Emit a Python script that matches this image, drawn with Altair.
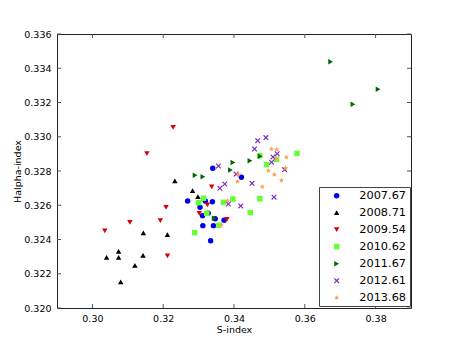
import altair as alt
import pandas as pd

series_names = ["2007.67", "2008.71", "2009.54", "2010.62", "2011.67", "2012.61", "2013.68"]
series_colors = ["#0000ee", "#000000", "#dd0000", "#66ff33", "#006600", "#7b2cbf", "#ffa04d"]

x_2007 = [0.3340, 0.3421, 0.3269, 0.3319, 0.3339, 0.3304, 0.3327, 0.3311, 0.3347, 0.3372, 0.3312, 0.3342, 0.3334]
y_2007 = [0.32816, 0.32763, 0.32625, 0.32625, 0.32621, 0.32588, 0.32553, 0.32539, 0.32521, 0.32512, 0.32481, 0.32481, 0.32393]

x_2008 = [0.3233, 0.3283, 0.3298, 0.3144, 0.3212, 0.3074, 0.3040, 0.3074, 0.3143, 0.3120, 0.3080]
y_2008 = [0.32743, 0.32685, 0.32650, 0.32438, 0.32428, 0.32331, 0.32296, 0.32296, 0.32308, 0.32249, 0.32152]

x_2009 = [0.3228, 0.3154, 0.3035, 0.3106, 0.3192, 0.3208, 0.3212, 0.3337, 0.3302, 0.3325, 0.3380]
y_2009 = [0.33055, 0.32901, 0.32450, 0.32500, 0.32510, 0.32588, 0.32304, 0.32708, 0.32553, 0.32602, 0.32518]

x_2010 = [0.3314, 0.3300, 0.3370, 0.3397, 0.3323, 0.3289, 0.3357, 0.3446, 0.3578, 0.3473, 0.3520, 0.3492, 0.3473]
y_2010 = [0.32641, 0.32615, 0.32617, 0.32636, 0.32553, 0.32440, 0.32483, 0.32557, 0.32903, 0.32889, 0.32868, 0.32837, 0.32638]

x_2011 = [0.3673, 0.3807, 0.3736, 0.3397, 0.3445, 0.3390, 0.3290, 0.3312, 0.3344, 0.3474]
y_2011 = [0.33438, 0.33277, 0.33190, 0.32849, 0.32860, 0.32806, 0.32775, 0.32767, 0.32524, 0.32886]

x_2012 = [0.3490, 0.3467, 0.3458, 0.3522, 0.3510, 0.3506, 0.3543, 0.3451, 0.3513, 0.3419, 0.3356, 0.3406, 0.3374, 0.3360, 0.3384]
y_2012 = [0.32995, 0.32977, 0.32929, 0.32901, 0.32882, 0.32851, 0.32808, 0.32728, 0.32647, 0.32596, 0.32829, 0.32782, 0.32724, 0.32699, 0.32607]

x_2013 = [0.3506, 0.3521, 0.3548, 0.3520, 0.3497, 0.3514, 0.3545, 0.3534, 0.3480, 0.3412, 0.3410, 0.3382, 0.3364]
y_2013 = [0.32929, 0.32925, 0.32880, 0.32873, 0.32802, 0.32779, 0.32818, 0.32746, 0.32708, 0.32781, 0.32738, 0.32627, 0.32485]

x_ticks = [0.30, 0.32, 0.34, 0.36, 0.38]
y_ticks = [0.320, 0.322, 0.324, 0.326, 0.328, 0.330, 0.332, 0.334, 0.336]

X_SHAPE = "M-1,-0.7L-0.7,-1L0,-0.3L0.7,-1L1,-0.7L0.3,0L1,0.7L0.7,1L0,0.3L-0.7,1L-1,0.7L-0.3,0Z"
STAR = ("M0,-1L0.265,-0.364L0.951,-0.309L0.428,0.139L0.588,0.809L0,0.45"
        "L-0.588,0.809L-0.428,0.139L-0.951,-0.309L-0.265,-0.364Z")
series_shapes = ["circle", "triangle-up", "triangle-down", "square", "triangle-right", X_SHAPE, STAR]

xs = [x_2007, x_2008, x_2009, x_2010, x_2011, x_2012, x_2013]
ys = [y_2007, y_2008, y_2009, y_2010, y_2011, y_2012, y_2013]
rows = []
for name, xv, yv in zip(series_names, xs, ys):
    for a, b in zip(xv, yv):
        rows.append({"s": a, "h": b, "epoch": name})
df = pd.DataFrame(rows)

W, H = 354, 274
FONT = "DejaVu Sans"

xscale = alt.Scale(domain=[0.29, 0.39], nice=False, zero=False)
yscale = alt.Scale(domain=[0.320, 0.336], nice=False, zero=False)

x_axis = alt.Axis(values=x_ticks, format=".2f", grid=False, ticks=False, tickSize=0,
                  domain=False, labelPadding=5, labelFontSize=9.5, labelFont=FONT,
                  labelOverlap=False, labelColor="#000", titleFont=FONT, titleFontSize=9.5,
                  titleFontWeight="normal", titleColor="#000", titlePadding=2)
y_axis = alt.Axis(values=y_ticks, format=".3f", grid=False, ticks=False, tickSize=0,
                  domain=False, labelPadding=6, labelFontSize=9.5, labelFont=FONT,
                  labelOverlap=False, labelColor="#000", titleFont=FONT, titleFontSize=9.5,
                  titleFontWeight="normal", titleColor="#000", titlePadding=1)

legend_cfg = dict(title=None, orient="none", legendX=262, legendY=153,
                  strokeColor="#444", fillColor="white", padding=3,
                  symbolOffset=9, labelOffset=17, rowPadding=5,
                  labelFont=FONT, labelFontSize=11.3, labelColor="#000",
                  symbolSize=30, symbolStrokeWidth=0)

points = alt.Chart(df).mark_point(filled=True, size=30, opacity=1).encode(
    x=alt.X("s:Q", scale=xscale, title="S-index", axis=x_axis),
    y=alt.Y("h:Q", scale=yscale, title="Halpha-index", axis=y_axis),
    color=alt.Color("epoch:N", scale=alt.Scale(domain=series_names, range=series_colors),
                    legend=alt.Legend(**legend_cfg)),
    shape=alt.Shape("epoch:N", scale=alt.Scale(domain=series_names, range=series_shapes),
                    legend=alt.Legend(**legend_cfg)),
)

xt = pd.DataFrame({"s": x_ticks})
yt = pd.DataFrame({"h": y_ticks})
tick_color = "#555"
xtick_bottom = alt.Chart(xt).mark_rule(color=tick_color, strokeWidth=1).encode(
    x=alt.X("s:Q", scale=xscale, title="S-index", axis=x_axis), y=alt.value(H), y2=alt.value(H - 4))
xtick_top = alt.Chart(xt).mark_rule(color=tick_color, strokeWidth=1).encode(
    x=alt.X("s:Q", scale=xscale, title="S-index", axis=x_axis), y=alt.value(0), y2=alt.value(4))
ytick_left = alt.Chart(yt).mark_rule(color=tick_color, strokeWidth=1).encode(
    y=alt.Y("h:Q", scale=yscale, title="Halpha-index", axis=y_axis), x=alt.value(0), x2=alt.value(4))
ytick_right = alt.Chart(yt).mark_rule(color=tick_color, strokeWidth=1).encode(
    y=alt.Y("h:Q", scale=yscale, title="Halpha-index", axis=y_axis), x=alt.value(W), x2=alt.value(W - 4))

chart = alt.layer(points, xtick_bottom, xtick_top, ytick_left, ytick_right).properties(
    width=W, height=H,
    background="white",
    autosize=alt.AutoSizeParams(type="none"),
    padding={"left": 49, "top": 26, "right": 38, "bottom": 27},
).configure_view(stroke="#222", strokeWidth=1).configure_axis(labelOverlap=False)

chart.save("out.html", embed_options={"renderer": "svg", "actions": False})
